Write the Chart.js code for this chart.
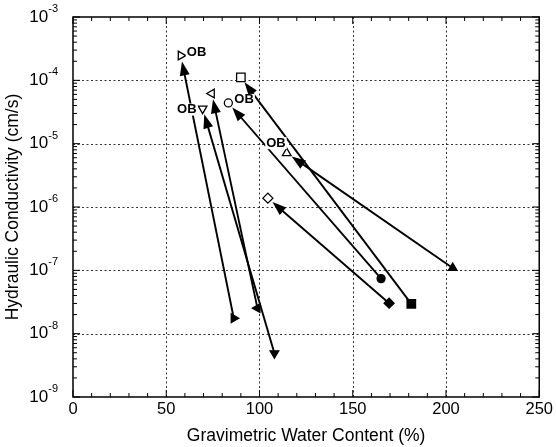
<!DOCTYPE html>
<html>
<head>
<meta charset="utf-8">
<script src="https://cdn.jsdelivr.net/npm/chart.js@4"></script>
<style>
  body { margin: 0; background: #fff; }
  canvas { display: block; }
</style>
</head>
<body>
<canvas id="chart" width="556" height="447"></canvas>
<script>
// Données (départ = symbole plein, arrivée = symbole vide)
const waterStart = [86.2, 98.9, 108, 181.4, 165.2, 169.5, 203.6];
const condStart = [1.75e-8, 2.53e-8, 4.9e-9, 2.96e-8, 7.4e-8, 3.03e-8, 1.09e-7];
const waterEnd = [57.8, 74.4, 69.5, 90, 83.3, 104.5, 114.6];
const condEnd = [2.46e-4, 6.2e-5, 3.58e-5, 1.11e-4, 4.4e-5, 1.38e-6, 7.08e-6];
const obLabel = [true, false, true, false, true, false, true];

// Axes
const xTicks = [0, 50, 100, 150, 200, 250];
const yDecades = [-9, -8, -7, -6, -5, -4, -3];

// Symboles
const markers = ["triangle", "triangle", "triangle", "rect", "circle", "rectRot", "triangle"];
const markerTurn = [90, -90, 180, 0, 0, 0, 0];
const markerSize = [5, 5, 5, 6, 4, 5, 5];
// position du texte "OB" par rapport au symbole vide
const obOffset = [[6, -3, "left"], null, [-6, 1, "right"], null, [6, -3, "left"], null, [-1, -10, "right"]];

const font = "Liberation Sans, Arial, sans-serif";

const datasets = waterStart.map((w, i) => ({
    data: [{ x: w, y: condStart[i] }, { x: waterEnd[i], y: condEnd[i] }],
    showLine: false,
    pointStyle: markers[i],
    pointRotation: markerTurn[i],
    pointRadius: markerSize[i],
    pointBackgroundColor: ["#000", "#fff"],
    pointBorderColor: "#000",
    pointBorderWidth: 1.3
}));

function line(ctx, x1, y1, x2, y2) {
    ctx.beginPath();
    ctx.moveTo(x1, y1);
    ctx.lineTo(x2, y2);
    ctx.stroke();
}

const decor = {
    id: "decor",
    beforeDatasetsDraw(chart) {
        const { ctx, chartArea: a, scales: { x, y } } = chart;
        ctx.save();
        // grille pointillée
        ctx.strokeStyle = "#333";
        ctx.lineWidth = 1;
        ctx.setLineDash([2, 2.5]);
        xTicks.slice(1, -1).forEach(v => {
            const px = Math.round(x.getPixelForValue(v)) + 0.5;
            line(ctx, px, a.top, px, a.bottom);
        });
        yDecades.slice(1, -1).forEach(d => {
            const py = Math.round(y.getPixelForValue(Math.pow(10, d))) + 0.5;
            line(ctx, a.left, py, a.right, py);
        });
        ctx.setLineDash([]);

        // flèches
        ctx.strokeStyle = "#000";
        ctx.fillStyle = "#000";
        ctx.lineWidth = 1.9;
        waterStart.forEach((w, i) => {
            const x0 = x.getPixelForValue(w), y0 = y.getPixelForValue(condStart[i]);
            const x1 = x.getPixelForValue(waterEnd[i]), y1 = y.getPixelForValue(condEnd[i]);
            const len = Math.hypot(x1 - x0, y1 - y0);
            const ux = (x1 - x0) / len, uy = (y1 - y0) / len;
            const tx = x1 - ux * 6, ty = y1 - uy * 6;
            const bx = tx - ux * 14, by = ty - uy * 14;
            line(ctx, x0, y0, bx + ux * 2, by + uy * 2);
            ctx.beginPath();
            ctx.moveTo(tx, ty);
            ctx.lineTo(bx - uy * 5, by + ux * 5);
            ctx.lineTo(bx + uy * 5, by - ux * 5);
            ctx.closePath();
            ctx.fill();
        });
        ctx.restore();
    },
    afterDatasetsDraw(chart) {
        const { ctx, chartArea: a, scales: { x, y } } = chart;
        ctx.save();

        // étiquettes OB
        ctx.font = "bold 13px " + font;
        ctx.textBaseline = "middle";
        obLabel.forEach((ob, i) => {
            if (!ob) return;
            const [dx, dy, align] = obOffset[i];
            const px = x.getPixelForValue(waterEnd[i]) + dx;
            const py = y.getPixelForValue(condEnd[i]) + dy;
            const wdt = ctx.measureText("OB").width;
            const left = align === "left" ? px : px - wdt;
            ctx.fillStyle = "#fff";
            ctx.fillRect(left - 1, py - 6, wdt + 2, 12);
            ctx.fillStyle = "#000";
            ctx.textAlign = align;
            ctx.fillText("OB", px, py);
        });

        // cadre
        ctx.strokeStyle = "#000";
        ctx.lineWidth = 1.5;
        ctx.strokeRect(a.left, a.top, a.right - a.left, a.bottom - a.top);

        // graduations vers l'intérieur
        ctx.lineWidth = 1;
        for (let v = 0; v <= 250; v += 10) {
            const px = x.getPixelForValue(v);
            const l = v % 50 === 0 ? 7 : 4;
            line(ctx, px, a.bottom, px, a.bottom - l);
            line(ctx, px, a.top, px, a.top + l);
        }
        yDecades.forEach((d, k) => {
            const steps = k < yDecades.length - 1 ? [1, 2, 3, 4, 5, 6, 7, 8, 9] : [1];
            steps.forEach(m => {
                const py = y.getPixelForValue(m * Math.pow(10, d));
                const l = m === 1 ? 7 : 4;
                line(ctx, a.left, py, a.left + l, py);
                line(ctx, a.right, py, a.right - l, py);
            });
        });

        // libellés de l'axe log : 10 puissance n
        ctx.fillStyle = "#000";
        ctx.textBaseline = "middle";
        yDecades.forEach(d => {
            const py = y.getPixelForValue(Math.pow(10, d));
            ctx.font = "11px " + font;
            ctx.textAlign = "right";
            const exp = "-" + Math.abs(d);
            ctx.fillText(exp, a.left - 15, py - 8);
            const ew = ctx.measureText(exp).width;
            ctx.font = "17px " + font;
            ctx.fillText("10", a.left - 15 - ew, py);
        });
        ctx.restore();
    }
};

new Chart(document.getElementById("chart"), {
    type: "scatter",
    data: { datasets },
    options: {
        responsive: false,
        animation: false,
        devicePixelRatio: 1,
        layout: { padding: { left: 0, top: 17, right: 16, bottom: 0 } },
        plugins: { legend: { display: false }, tooltip: { enabled: false } },
        scales: {
            x: {
                type: "linear",
                min: 0,
                max: 250,
                afterBuildTicks: s => { s.ticks = xTicks.map(v => ({ value: v })); },
                afterFit: s => { s.height = 50; },
                grid: { display: false, drawTicks: false },
                border: { display: false },
                ticks: { color: "#000", font: { family: font, size: 16.5 }, padding: 3, maxRotation: 0 },
                title: {
                    display: true,
                    text: "Gravimetric Water Content (%)",
                    color: "#000",
                    font: { family: font, size: 17.5 },
                    padding: { top: 0, bottom: 0 }
                }
            },
            y: {
                type: "logarithmic",
                min: 1e-9,
                max: 1e-3,
                afterBuildTicks: s => { s.ticks = yDecades.map(d => ({ value: Math.pow(10, d) })); },
                afterFit: s => { s.width = 73; },
                grid: { display: false, drawTicks: false },
                border: { display: false },
                ticks: { display: false },
                title: {
                    display: true,
                    text: "Hydraulic Conductivity (cm/s)",
                    color: "#000",
                    font: { family: font, size: 17.5 },
                    padding: { top: 3, bottom: 0 }
                }
            }
        }
    },
    plugins: [decor]
});
</script>
</body>
</html>
